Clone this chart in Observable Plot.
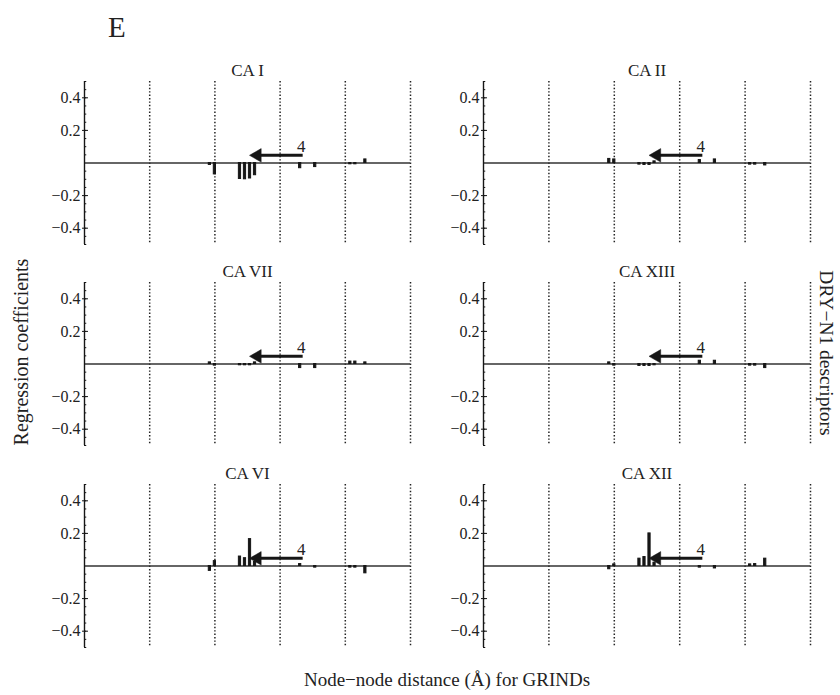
<!DOCTYPE html>
<html><head><meta charset="utf-8">
<script src="https://cdn.jsdelivr.net/npm/d3@7"></script>
<script src="https://cdn.jsdelivr.net/npm/@observablehq/plot@0.6"></script>
<style>
html,body{margin:0;padding:0;background:#fff;}
#wrap{position:relative;width:840px;height:695px;overflow:hidden;background:#fff;font-family:"Liberation Serif",serif;}
#wrap .panel{position:absolute;}
#wrap svg text{font-family:"Liberation Serif",serif !important;}
#labels{position:absolute;left:0;top:0;}
</style></head><body><div id="wrap"></div>
<script>
// GRIND descriptor positions (variable index, 13 per node-node distance block)
const descriptorIndex = [25, 26, 31, 32, 33, 34, 43, 46, 53, 54, 56];
// Regression coefficients per isoform
const caI    = [-0.012, -0.07, -0.098, -0.1, -0.095, -0.075, -0.032, -0.025, -0.008, -0.008, 0.022];
const caII   = [0.025, 0.022, -0.01, -0.012, -0.012, 0.01, 0.018, 0.022, -0.01, -0.01, -0.015];
const caVII  = [0.01, -0.01, -0.008, -0.008, -0.008, 0.01, -0.025, -0.025, 0.015, 0.015, 0.01];
const caXIII = [0.01, -0.01, -0.012, -0.012, -0.012, -0.008, 0.02, 0.02, -0.01, -0.01, -0.025];
const caVI   = [-0.03, 0.03, 0.058, 0.048, 0.165, 0.025, 0.012, -0.01, -0.01, -0.01, -0.045];
const caXII  = [-0.02, 0.01, 0.045, 0.055, 0.2, 0.02, -0.01, -0.015, 0.01, 0.012, 0.045];
const panelTitles = ["CA I", "CA II", "CA VII", "CA XIII", "CA VI", "CA XII"];
const panelValues = [caI, caII, caVII, caXIII, caVI, caXII];
const blockEdges = [13, 26, 39, 52, 65];
const yMajorTicks = [-0.4, -0.2, 0.2, 0.4];
const yMinorTicks = [-0.5,-0.45,-0.4,-0.35,-0.3,-0.25,-0.2,-0.15,-0.1,-0.05,0.05,0.1,0.15,0.2,0.25,0.3,0.35,0.4,0.45,0.5];
const arrowFrom = 43.5, arrowTo = 33.7, arrowLevel = 0.047;
const arrowLabel = "4", arrowLabelX = 43.2, arrowLabelLevel = 0.104;
const panelLetter = "E";
const xLabel = "Node\u2212node distance (\u00c5) for GRINDs";
const yLabel = "Regression coefficients";
const sideLabel = "DRY\u2212N1 descriptors";

const wrap = document.getElementById("wrap");
const ink = "#161616";
const serif = "Liberation Serif";
const rowTops = [50.5, 252, 453.5];
const cols = [{left: 0, width: 415, ml: 84, mr: 5}, {left: 415, width: 405, ml: 68, mr: 10}];

panelTitles.forEach((title, k) => {
  const col = cols[k % 2], top = rowTops[Math.floor(k / 2)];
  const bars = descriptorIndex.map((i, j) => ({i, v: panelValues[k][j]}));
  const shaft = [{x1: arrowFrom, x2: arrowTo + 1.2, y: arrowLevel}];
  const head = [{x: arrowTo + 0.75, y: arrowLevel}];
  const chart = Plot.plot({
    width: col.width, height: 200,
    marginLeft: col.ml, marginRight: col.mr, marginTop: 30, marginBottom: 7,
    style: {background: "transparent", fontFamily: serif, fontSize: "16px", color: "#222"},
    x: {domain: [0, 65], axis: null},
    y: {domain: [-0.5, 0.5], axis: null},
    marks: [
      Plot.ruleX(blockEdges, {stroke: "#222", strokeWidth: 1.5, strokeDasharray: "1.4,2"}),
      Plot.ruleY([0], {stroke: "#333", strokeWidth: 1.4}),
      Plot.rectY(bars, {x1: d => d.i - 0.22, x2: d => d.i + 0.22, y1: 0, y2: "v", fill: ink, stroke: ink, strokeWidth: 1}),
      Plot.link(shaft, {x1: "x1", x2: "x2", y1: "y", y2: "y", stroke: ink, strokeWidth: 3}),
      Plot.dot(head, {x: "x", y: "y", symbol: "triangle", rotate: -90, r: 5, fill: ink, stroke: ink, strokeWidth: 0.5}),
      Plot.text([arrowLabel], {x: arrowLabelX, y: arrowLabelLevel, text: d => d, fontSize: 17, fontFamily: serif, fill: "#222"}),
      Plot.ruleX([0], {stroke: ink, strokeWidth: 1.4}),
      Plot.ruleY(yMinorTicks, {x1: 0, x2: 0.45, stroke: ink, strokeWidth: 1}),
      Plot.ruleY(yMajorTicks, {x1: 0, x2: 0.8, stroke: ink, strokeWidth: 1}),
      Plot.axisY({ticks: yMajorTicks, tickSize: 2, tickPadding: 2, fontSize: 16, fontFamily: serif, stroke: ink, fill: "#222"}),
      Plot.text([title], {frameAnchor: "top", dy: -6, lineAnchor: "bottom", text: d => d, fontSize: 17, fontFamily: serif, fill: "#222"})
    ]
  });
  chart.classList.add("panel");
  chart.style.left = col.left + "px";
  chart.style.top = top + "px";
  chart.style.fontFamily = serif;
  wrap.appendChild(chart);
});

const svg = d3.select(wrap).append("svg").attr("id", "labels").attr("width", 840).attr("height", 695)
  .style("pointer-events", "none");
svg.append("text").attr("x", 108).attr("y", 36.5).attr("font-family", serif).attr("font-size", 29)
  .attr("fill", "#222").text(panelLetter);
svg.append("text").attr("transform", "translate(28,352) rotate(-90)").attr("text-anchor", "middle")
  .attr("font-family", serif).attr("font-size", 20).attr("fill", "#222").text(yLabel);
svg.append("text").attr("transform", "translate(820,353) rotate(90)").attr("text-anchor", "middle")
  .attr("font-family", serif).attr("font-size", 19.5).attr("fill", "#222").text(sideLabel);
svg.append("text").attr("x", 447).attr("y", 685.5).attr("text-anchor", "middle")
  .attr("font-family", serif).attr("font-size", 19).attr("fill", "#222").text(xLabel);
</script></body></html>
